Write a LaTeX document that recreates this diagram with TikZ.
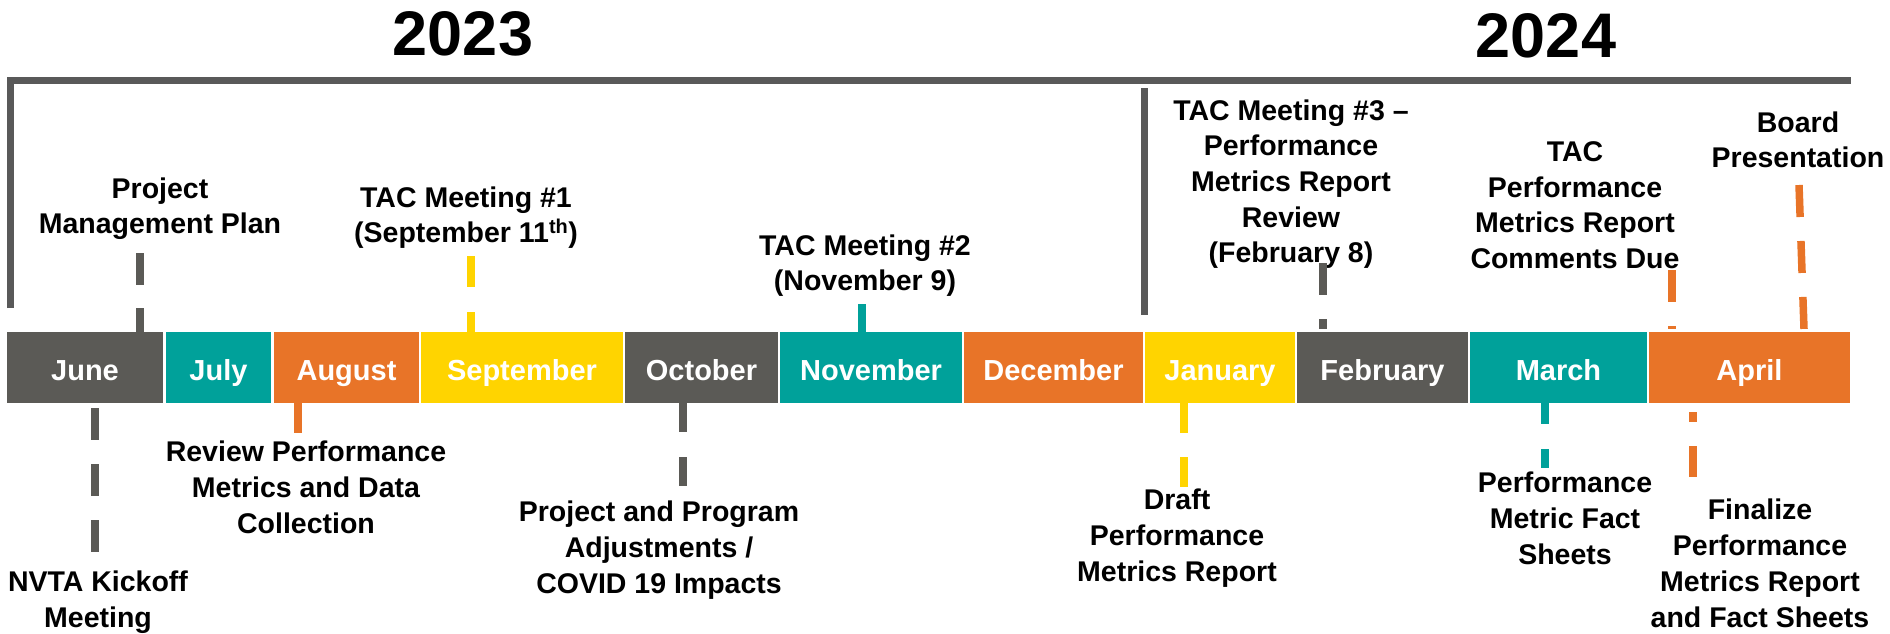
\documentclass[tikz,border=0pt]{standalone}
\usepackage{fontspec}
\setmainfont{Liberation Sans}
\definecolor{cgray}{HTML}{5B5A56}
\definecolor{cteal}{HTML}{00A19A}
\definecolor{corange}{HTML}{E87428}
\definecolor{cyellow}{HTML}{FFD400}
\definecolor{cline}{HTML}{595959}
\newcommand{\lblfont}{\fontsize{28.5pt}{35.7pt}\selectfont\bfseries}
\newcommand{\monfont}{\fontsize{29pt}{34pt}\selectfont\bfseries}
\newcommand{\yrfont}{\fontsize{63pt}{70pt}\selectfont\bfseries}
\begin{document}
\begin{tikzpicture}[x=1pt,y=-1pt,
  month/.style={fill=#1, draw=none, minimum height=71pt, inner sep=0pt,
    text=white, font=\monfont, text height=25pt, text depth=0pt},
  lbl/.style={align=center, font=\lblfont, inner sep=0pt, anchor=base},
  year/.style={font=\yrfont, inner sep=0pt, anchor=base},
  stem/.style={draw=#1, line width=7.5pt},
  bracket/.style={draw=cline, line width=7pt, miter limit=10}]
\useasboundingbox (0,0) rectangle (1890,633);

% years
\node[year] (y23) at (463,55) {2023};
\node[year] (y24) at (1546,57) {2024};

% bracket
\coordinate (brL) at (10,308);
\coordinate (brTL) at (10,80.5);
\coordinate (brTR) at (1851,80.5);
\draw[bracket] (brL) -- (brTL) -- (brTR);
\coordinate (brM1) at (1144,88);
\coordinate (brM2) at (1144,315);
\draw[draw=cline, line width=7pt] (brM1) -- (brM2);

% months
\node[month=cgray,   minimum width=156pt] (jun) at (85,367.5)    {June};
\node[month=cteal,   minimum width=105pt] (jul) at (218.5,367.5) {July};
\node[month=corange, minimum width=145pt] (aug) at (346.5,367.5) {August};
\node[month=cyellow, minimum width=202pt] (sep) at (522,367.5)   {September};
\node[month=cgray,   minimum width=153pt] (oct) at (701.5,367.5) {October};
\node[month=cteal,   minimum width=182pt] (nov) at (871,367.5)   {November};
\node[month=corange, minimum width=179pt] (dec) at (1053.5,367.5){December};
\node[month=cyellow, minimum width=150pt] (jan) at (1220,367.5)  {January};
\node[month=cgray,   minimum width=171pt] (feb) at (1382.5,367.5){February};
\node[month=cteal,   minimum width=177pt] (mar) at (1558.5,367.5){March};
\node[month=corange, minimum width=201pt] (apr) at (1749.5,367.5){April};

% labels above (anchor = baseline of last line)
\node[lbl] (pmp) at (160,233.7) {Project\\Management Plan};
\node[lbl] (tac1) at (466,242.7) {TAC Meeting \#1\\(September 11\textsuperscript{th})};
\node[lbl] (tac2) at (865,290.7) {TAC Meeting \#2\\(November 9)};
\node[lbl] (tac3) at (1291,262.8) {TAC Meeting \#3 \textendash\\Performance\\Metrics Report\\Review\\(February 8)};
\node[lbl] (tacc) at (1575,268.5) {TAC\\Performance\\Metrics Report\\Comments Due};
\node[lbl] (board) at (1798,167.7) {Board\\Presentation};

% labels below
\node[lbl] (nvta) at (98,627.5) {NVTA Kickoff\\Meeting};
\node[lbl] (rev) at (306,533) {Review Performance\\Metrics and Data\\Collection};
\node[lbl] (ppa) at (659,593) {Project and Program\\Adjustments /\\COVID 19 Impacts};
\node[lbl] (draft) at (1177,581) {Draft\\Performance\\Metrics Report};
\node[lbl] (pmfs) at (1565,564) {Performance\\Metric Fact\\Sheets};
\node[lbl] (fin) at (1760,627) {Finalize\\Performance\\Metrics Report\\and Fact Sheets};

% stems above
\coordinate (sPmp) at (140,253);
\draw[stem=cgray, dash pattern=on 32pt off 23pt] (sPmp) -- (sPmp |- jun.north);
\coordinate (sTac1) at (471,256);
\draw[stem=cyellow, dash pattern=on 31pt off 25pt] (sTac1) -- (sTac1 |- sep.north);
\coordinate (sTac2) at (862,304);
\draw[stem=cteal] (sTac2) -- (sTac2 |- nov.north);
\coordinate (sTac3) at (1323,263);
\coordinate (sTac3b) at (1323,329);
\draw[stem=cgray, dash pattern=on 32pt off 24pt] (sTac3) -- (sTac3b);
\coordinate (sTacc) at (1672,270);
\coordinate (sTaccb) at (1672,329);
\draw[stem=corange, dash pattern=on 32pt off 24pt] (sTacc) -- (sTaccb);
\coordinate (sBoard) at (1799,185);
\coordinate (sBoardb) at (1804,329);
\draw[stem=corange, dash pattern=on 32pt off 24pt] (sBoard) -- (sBoardb);

% stems below
\coordinate (sNvta) at (95,408);
\coordinate (sNvtab) at (95,552);
\draw[stem=cgray, dash pattern=on 32pt off 24pt] (sNvta) -- (sNvtab);
\coordinate (sRev) at (298,433);
\draw[stem=corange] (sRev |- aug.south) -- (sRev);
\coordinate (sPpa) at (683,488);
\draw[stem=cgray, dash pattern=on 29pt off 25pt] (sPpa |- oct.south) -- (sPpa);
\coordinate (sDraft) at (1184,488);
\draw[stem=cyellow, dash pattern=on 30pt off 24pt] (sDraft |- jan.south) -- (sDraft);
\coordinate (sPmfs) at (1545,468);
\draw[stem=cteal, dash pattern=on 21pt off 25pt] (sPmfs |- mar.south) -- (sPmfs);
\coordinate (sFin) at (1693,412);
\coordinate (sFinb) at (1693,477);
\draw[stem=corange, dash pattern=on 31pt off 24pt, dash phase=21pt] (sFin) -- (sFinb);
\end{tikzpicture}
\end{document}
